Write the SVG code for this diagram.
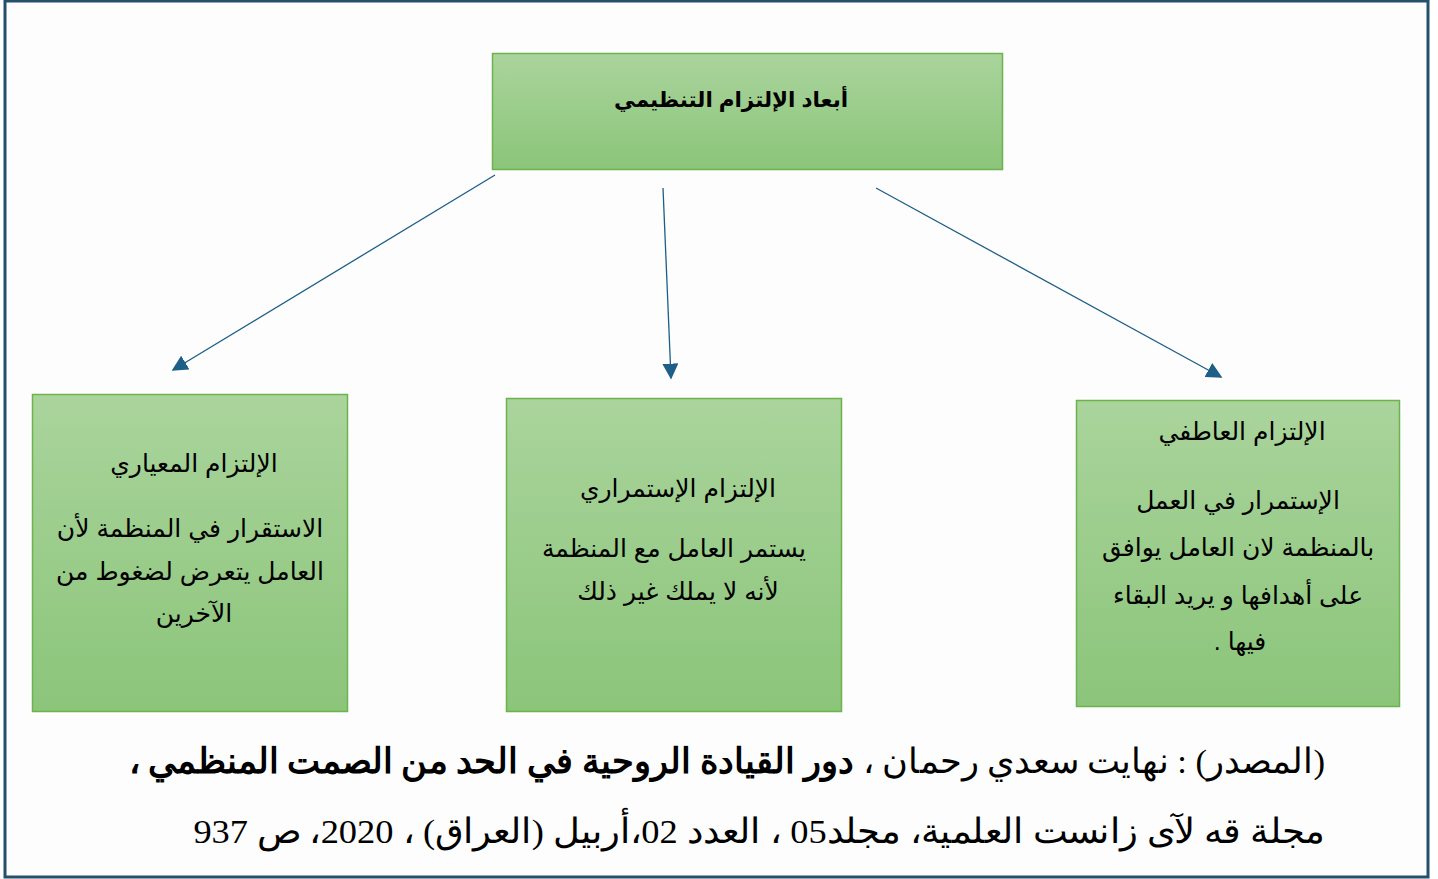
<svg xmlns="http://www.w3.org/2000/svg" width="1438" height="879" viewBox="0 0 1438 879">
  <defs>
    <linearGradient id="boxFill" x1="0" y1="0" x2="0" y2="1">
      <stop offset="0" stop-color="#aad49c"/>
      <stop offset="1" stop-color="#8bc57a"/>
    </linearGradient>
    <marker id="arrowHead" viewBox="0 0 10 10" refX="9" refY="5" markerWidth="16" markerHeight="16" markerUnits="userSpaceOnUse" orient="auto">
      <path d="M0,0 L10,5 L0,10 z" fill="#1d5f86"/>
    </marker>
  </defs>
  <style>
    .box { fill: url(#boxFill); stroke: #6cb34e; stroke-width: 1.5; }
    .lbl { font-family: "Liberation Sans", "DejaVu Sans", sans-serif; font-size: 25px; fill: #000; direction: rtl; text-anchor: middle; }
    .head { font-weight: bold; font-size: 21.5px; }
    .src { font-family: "Liberation Serif", "DejaVu Serif", serif; font-size: 34.5px; fill: #000; direction: rtl; text-anchor: start; }
    .conn { stroke: #1d5f86; stroke-width: 1.3; fill: none; marker-end: url(#arrowHead); }
  </style>

  <!-- page frame -->
  <rect x="0" y="0" width="1438" height="879" fill="#ffffff"/>
  <rect x="5" y="1" width="1423" height="876" fill="#fdfdfd" stroke="#24506c" stroke-width="3"/>

  <!-- connectors -->
  <g id="connectors">
    <line class="conn" x1="495" y1="175" x2="173" y2="370"/>
    <line class="conn" x1="663" y1="188" x2="671" y2="378"/>
    <line class="conn" x1="876" y1="188" x2="1221" y2="377"/>
  </g>

  <!-- root node -->
  <g id="node-root">
    <rect class="box" x="492.5" y="53.5" width="510" height="116"/>
    <text class="lbl head" x="731" y="107">أبعاد الإلتزام التنظيمي</text>
  </g>

  <!-- normative commitment -->
  <g id="node-normative">
    <rect class="box" x="32.5" y="394.5" width="315" height="317"/>
    <text class="lbl" x="194" y="472">الإلتزام المعياري</text>
    <text class="lbl" x="190" y="537" font-size="27">الاستقرار في المنظمة لأن</text>
    <text class="lbl" x="190" y="580" font-size="27">العامل يتعرض لضغوط من</text>
    <text class="lbl" x="194" y="622">الآخرين</text>
  </g>

  <!-- continuance commitment -->
  <g id="node-continuance">
    <rect class="box" x="506.5" y="398.5" width="335" height="313"/>
    <text class="lbl" x="678" y="497">الإلتزام الإستمراري</text>
    <text class="lbl" x="674" y="557">يستمر العامل مع المنظمة</text>
    <text class="lbl" x="678" y="600">لأنه لا يملك غير ذلك</text>
  </g>

  <!-- affective commitment -->
  <g id="node-affective">
    <rect class="box" x="1076.5" y="400.5" width="323" height="306"/>
    <text class="lbl" x="1242" y="440" font-size="24">الإلتزام العاطفي</text>
    <text class="lbl" x="1238" y="509">الإستمرار في العمل</text>
    <text class="lbl" x="1238" y="556">بالمنظمة لان العامل يوافق</text>
    <text class="lbl" x="1238" y="604">على أهدافها و يريد البقاء</text>
    <text class="lbl" x="1240" y="650">فيها .</text>
  </g>

  <!-- source reference, right-aligned at x=1325 -->
  <g id="source">
    <text class="src" x="1325" y="773" transform="translate(1325 0) scale(1.006 1) translate(-1325 0)">(المصدر) : نهايت  سعدي رحمان ، <tspan font-weight="bold">دور القيادة الروحية في الحد من الصمت المنظمي ،</tspan></text>
    <text class="src" x="1325" y="843" font-size="36.5" transform="translate(1325 0) scale(1.056 1) translate(-1325 0)">مجلة قه لآى زانست العلمية، مجلد05 ، العدد 02،أربيل (العراق) ، 2020، ص 937</text>
  </g>
</svg>
